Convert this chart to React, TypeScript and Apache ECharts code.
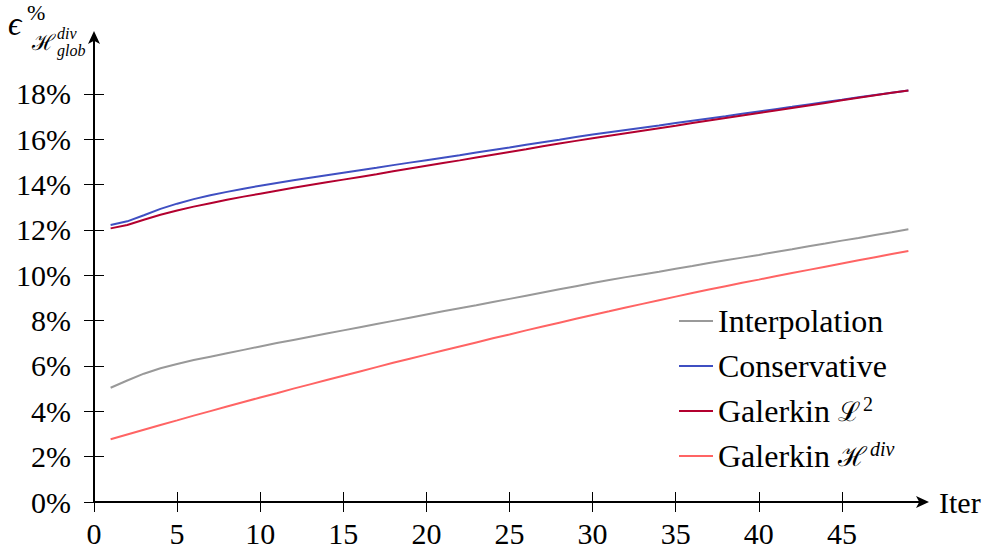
import React, { useEffect, useRef } from "react";
import * as echarts from "echarts";

const iters = [1, 2, 3, 4, 5, 6, 7, 8, 9, 10, 11, 12, 13, 14, 15, 16, 17, 18, 19, 20, 21, 22, 23, 24, 25, 26, 27, 28, 29, 30, 31, 32, 33, 34, 35, 36, 37, 38, 39, 40, 41, 42, 43, 44, 45, 46, 47, 48, 49];

const interpolation = [5.04, 5.36, 5.66, 5.9, 6.09, 6.26, 6.41, 6.56, 6.71, 6.86, 7.01, 7.15, 7.29, 7.43, 7.57, 7.71, 7.85, 7.99, 8.13, 8.27, 8.41, 8.55, 8.68, 8.82, 8.96, 9.1, 9.24, 9.38, 9.52, 9.66, 9.79, 9.92, 10.04, 10.16, 10.29, 10.41, 10.54, 10.66, 10.78, 10.9, 11.03, 11.15, 11.28, 11.4, 11.53, 11.65, 11.78, 11.9, 12.03];

const conservative = [12.22, 12.38, 12.65, 12.93, 13.16, 13.36, 13.53, 13.68, 13.82, 13.95, 14.07, 14.19, 14.3, 14.41, 14.52, 14.63, 14.74, 14.86, 14.97, 15.08, 15.19, 15.3, 15.42, 15.53, 15.64, 15.76, 15.87, 15.98, 16.1, 16.21, 16.31, 16.41, 16.51, 16.61, 16.72, 16.82, 16.92, 17.02, 17.13, 17.23, 17.33, 17.43, 17.54, 17.64, 17.74, 17.85, 17.95, 18.05, 18.15];

const galerkinL2 = [12.07, 12.22, 12.45, 12.67, 12.86, 13.03, 13.18, 13.33, 13.47, 13.6, 13.73, 13.86, 13.98, 14.1, 14.22, 14.34, 14.46, 14.59, 14.71, 14.83, 14.95, 15.07, 15.2, 15.32, 15.44, 15.56, 15.69, 15.81, 15.93, 16.05, 16.16, 16.27, 16.38, 16.49, 16.6, 16.72, 16.83, 16.94, 17.05, 17.16, 17.27, 17.38, 17.49, 17.6, 17.72, 17.83, 17.94, 18.05, 18.15];

const galerkinHdiv = [2.77, 2.98, 3.19, 3.4, 3.6, 3.81, 4.01, 4.21, 4.41, 4.61, 4.8, 5.0, 5.19, 5.38, 5.57, 5.76, 5.95, 6.14, 6.32, 6.5, 6.68, 6.86, 7.04, 7.22, 7.39, 7.57, 7.74, 7.91, 8.08, 8.25, 8.41, 8.58, 8.74, 8.9, 9.06, 9.22, 9.37, 9.52, 9.67, 9.81, 9.96, 10.1, 10.24, 10.38, 10.52, 10.66, 10.8, 10.94, 11.07];

const xTicks = [0, 5, 10, 15, 20, 25, 30, 35, 40, 45];
const yTicks = [0, 2, 4, 6, 8, 10, 12, 14, 16, 18];

const seriesNames = ["Interpolation", "Conservative", "Galerkin L2", "Galerkin Hdiv"];
const seriesColors = ["#999999", "#3f4fc2", "#b3002f", "#ff6464"];
const seriesData = [interpolation, conservative, galerkinL2, galerkinHdiv];

const FONT = "Liberation Serif";
const FS = 30;
const LFS = 32;

export default function App() {
  const ref = useRef<HTMLDivElement>(null);

  useEffect(() => {
    if (!ref.current) return;
    const chart = echarts.init(ref.current, null, { renderer: "svg" });

    const baseX = {
      type: "value" as const,
      min: 0,
      max: 50,
      position: "bottom" as const,
      splitLine: { show: false },
    };
    const baseY = {
      type: "value" as const,
      min: 0,
      max: 20.6,
      position: "left" as const,
      splitLine: { show: false },
    };
    const tickStyle = { color: "#000", width: 1 };

    chart.setOption({
      animation: false,
      backgroundColor: "#ffffff",
      textStyle: { fontFamily: FONT },
      grid: { left: 94, right: 65, top: 35, bottom: 49, containLabel: false },
      xAxis: [
        {
          ...baseX,
          name: "Iter",
          nameLocation: "end",
          nameGap: 14,
          nameTextStyle: { fontFamily: FONT, fontSize: FS, color: "#000", verticalAlign: "middle" },
          axisLine: {
            show: true,
            symbol: ["none", "arrow"],
            symbolSize: [9, 13],
            symbolOffset: [0, 4],
            lineStyle: { color: "#000", width: 2 },
          },
          axisTick: { show: true, customValues: xTicks, length: 10, inside: false, lineStyle: tickStyle },
          axisLabel: {
            customValues: xTicks,
            margin: 16,
            fontFamily: FONT,
            fontSize: FS,
            color: "#000",
          },
        },
        {
          ...baseX,
          axisLine: { show: true, lineStyle: { color: "#000", width: 2, opacity: 0 } },
          axisTick: { show: true, customValues: xTicks, length: 10, inside: true, lineStyle: tickStyle },
          axisLabel: { show: false },
        },
      ],
      yAxis: [
        {
          ...baseY,
          axisLine: {
            show: true,
            symbol: ["none", "arrow"],
            symbolSize: [9, 13],
            symbolOffset: [0, 4],
            lineStyle: { color: "#000", width: 2 },
          },
          axisTick: { show: true, customValues: yTicks, length: 10, inside: false, lineStyle: tickStyle },
          axisLabel: {
            customValues: yTicks,
            margin: 23,
            fontFamily: FONT,
            fontSize: FS,
            color: "#000",
            formatter: (v: number) => `${v}%`,
          },
        },
        {
          ...baseY,
          axisLine: { show: true, lineStyle: { color: "#000", width: 2, opacity: 0 } },
          axisTick: { show: true, customValues: yTicks, length: 10, inside: true, lineStyle: tickStyle },
          axisLabel: { show: false },
        },
      ],
      legend: {
        orient: "vertical",
        left: 674,
        top: 299,
        itemWidth: 34,
        itemHeight: 14,
        itemGap: 11,
        data: seriesNames.map((n, i) => ({
          name: n,
          icon: "path://M0,0 L34,0 L34,2 L0,2 Z",
          itemStyle: { color: seriesColors[i] },
        })),
        formatter: (name: string) => {
          if (name === "Galerkin L2") return "{t|Galerkin }{cal|ℒ}{sup|2}";
          if (name === "Galerkin Hdiv") return "{t|Galerkin }{cal|ℋ}{supi|div}";
          return `{t|${name}}`;
        },
        textStyle: {
          fontFamily: FONT,
          fontSize: LFS,
          color: "#000",
          lineHeight: 34,
          rich: {
            t: { fontFamily: FONT, fontSize: LFS, color: "#000", lineHeight: 34 },
            cal: { fontFamily: "DejaVu Serif", fontSize: 27, color: "#000", lineHeight: 34 },
            sup: { fontFamily: FONT, fontSize: 20, color: "#000", verticalAlign: "top", lineHeight: 34, padding: [0, 0, 12, 3] },
            supi: { fontFamily: FONT, fontSize: 20, fontStyle: "italic", color: "#000", verticalAlign: "top", lineHeight: 34, padding: [0, 0, 12, 3] },
          },
        },
      },
      graphic: [
        { type: "text", left: 8, top: 7, style: { text: "ϵ", font: `italic 33px Liberation Serif`, fill: "#000" } },
        { type: "text", left: 27, top: 1, style: { text: "%", font: `22px Liberation Serif`, fill: "#000" } },
        { type: "text", left: 32, top: 31, style: { text: "ℋ", font: `22px DejaVu Serif`, fill: "#000" } },
        { type: "text", left: 57, top: 25, style: { text: "div", font: `italic 16px Liberation Serif`, fill: "#000" } },
        { type: "text", left: 57, top: 42, style: { text: "glob", font: `italic 16px Liberation Serif`, fill: "#000" } },
      ],
      series: seriesNames.map((n, i) => ({
        name: n,
        type: "line",
        xAxisIndex: 0,
        yAxisIndex: 0,
        symbol: "none",
        smooth: false,
        data: iters.map((x, k) => [x, seriesData[i][k]]),
        lineStyle: { color: seriesColors[i], width: 2 },
        itemStyle: { color: seriesColors[i] },
        z: 2 + (i === 2 ? 1 : 0),
      })),
    });

    return () => chart.dispose();
  }, []);

  return <div ref={ref} style={{ width: 990, height: 551, position: "absolute", left: 0, top: 0 }} />;
}
